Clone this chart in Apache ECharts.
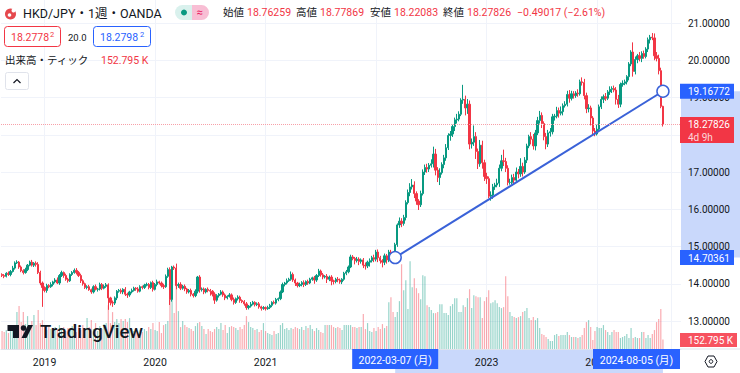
<!DOCTYPE html>
<html>
<head>
<meta charset="utf-8">
<style>
  html, body { margin: 0; padding: 0; background: #fff; }
  #chart { width: 740px; height: 373px; }
</style>
<script src="https://cdn.jsdelivr.net/npm/echarts@6/dist/echarts.min.js"></script>
</head>
<body>
<div id="chart"></div>
<script>
// HKD/JPY weekly. open of a week = close of the week before.
var firstOpen = 14.25;
var closes = [
  14.22,14.20,14.28,14.25,14.33,14.42,14.56,14.58,14.45,14.35,
  14.30,14.38,14.50,14.58,14.50,14.55,14.52,14.30,14.02,13.90,
  13.82,13.95,13.92,13.98,14.05,14.10,14.02,14.22,14.30,14.22,
  14.12,14.08,14.25,14.30,14.36,14.30,14.22,14.08,14.00,13.90,
  13.92,13.84,13.78,13.92,13.85,13.86,13.98,13.88,13.93,13.97,
  13.62,13.50,13.48,13.62,13.80,13.82,13.78,13.85,13.72,13.70,
  13.78,13.82,13.88,13.86,13.80,13.92,13.90,13.96,13.98,13.90,
  14.03,13.85,13.98,14.05,14.02,13.95,13.92,14.20,14.38,13.58,
  14.45,14.42,13.95,13.98,13.88,13.93,13.86,13.78,13.82,13.72,
  13.68,13.80,14.18,13.84,13.86,13.78,13.85,13.82,13.80,13.72,
  13.56,13.68,13.72,13.78,13.70,13.62,13.66,13.70,13.58,13.50,
  13.60,13.64,13.55,13.52,13.46,13.36,13.40,13.45,13.50,13.44,
  13.46,13.38,13.34,13.36,13.33,13.36,13.42,13.50,13.48,13.58,
  13.60,13.78,13.98,14.02,14.08,14.12,14.25,14.10,14.02,13.95,
  13.98,14.03,13.98,14.06,14.02,14.12,14.16,14.10,14.22,14.34,
  14.24,14.18,14.20,14.12,14.18,14.08,14.06,14.12,14.10,14.05,
  14.12,14.28,14.32,14.45,14.72,14.68,14.62,14.66,14.60,14.64,
  14.50,14.48,14.58,14.62,14.70,14.66,14.85,14.70,14.62,14.58,
  14.75,14.64,14.85,14.78,14.72,15.05,15.58,15.68,15.62,15.78,
  16.18,16.45,16.60,16.65,16.42,16.22,16.12,16.42,17.00,17.12,
  17.08,17.18,17.22,17.48,17.05,16.85,16.98,17.20,17.38,17.65,
  17.98,18.02,18.22,18.40,18.42,18.55,18.93,18.95,18.72,18.82,
  17.75,17.80,17.95,17.55,17.22,17.72,17.25,16.88,16.82,16.35,
  16.38,16.60,16.65,16.70,17.10,17.30,17.28,17.10,16.72,16.72,
  16.85,16.78,17.00,16.95,17.15,17.00,17.32,17.70,17.95,17.88,
  17.70,18.05,18.38,18.52,18.30,17.95,17.75,18.05,18.08,18.48,
  18.50,18.65,18.58,18.62,18.78,18.82,19.08,18.98,19.10,19.05,
  19.12,19.10,19.42,19.40,19.05,18.70,18.72,18.45,18.10,18.02,
  18.15,18.75,18.95,19.02,18.98,19.15,19.22,19.24,19.20,18.95,
  18.82,19.35,19.38,19.42,19.56,19.90,20.22,19.70,20.02,20.12,
  20.05,20.18,20.10,20.30,20.55,20.62,20.60,20.12,20.05,19.72,
  18.76259,18.27826
];
// wick lengths above and below the body
var wickUp = [
  .03,.04,.03,.05,.04,.06,.04,.05,.03,.04,
  .04,.05,.03,.04,.06,.03,.05,.06,.05,.04,
  .03,.05,.04,.06,.03,.05,.07,.04,.05,.03,
  .05,.04,.03,.04,.05,.06,.04,.05,.04,.03,
  .04,.05,.03,.04,.06,.03,.05,.04,.05,.05,
  .04,.03,.05,.04,.03,.04,.05,.03,.06,.04,
  .03,.05,.04,.03,.05,.04,.03,.04,.05,.04,
  .03,.05,.04,.06,.03,.04,.05,.05,.05,.06,
  .03,.04,.12,.05,.06,.04,.05,.03,.04,.05,
  .03,.05,.03,.05,.04,.04,.03,.05,.04,.03,
  .05,.04,.03,.05,.04,.04,.03,.05,.04,.05,
  .03,.05,.04,.03,.04,.05,.03,.06,.04,.03,
  .04,.05,.03,.04,.03,.05,.04,.03,.05,.04,
  .03,.04,.05,.03,.06,.04,.08,.05,.04,.03,
  .05,.04,.06,.03,.05,.04,.03,.05,.04,.06,
  .04,.05,.03,.06,.04,.05,.03,.04,.06,.04,
  .03,.04,.05,.04,.06,.05,.04,.06,.05,.04,
  .05,.07,.04,.06,.05,.08,.06,.07,.05,.04,
  .06,.05,.06,.06,.05,.05,.04,.10,.08,.07,
  .06,.08,.10,.16,.10,.06,.05,.08,.07,.08,
  .10,.06,.12,.20,.14,.08,.12,.06,.08,.10,
  .06,.08,.05,.06,.14,.08,.05,.39,.10,.14,
  .10,.10,.30,.12,.08,.14,.12,.08,.10,.06,
  .10,.08,.06,.12,.10,.16,.30,.10,.08,.10,
  .08,.10,.12,.08,.22,.10,.08,.06,.05,.12,
  .14,.08,.10,.12,.08,.06,.10,.08,.10,.08,
  .06,.10,.08,.14,.06,.08,.10,.12,.08,.07,
  .05,.10,.06,.12,.10,.08,.10,.06,.05,.08,
  .12,.06,.08,.06,.10,.05,.08,.06,.08,.08,
  .12,.05,.08,.06,.04,.05,.05,.26,.08,.05,
  .10,.06,.08,.05,.06,.06,.11,.12,.10,.10,
  .08,.0161
];
var wickDown = [
  .04,.05,.03,.04,.05,.03,.04,.03,.05,.04,
  .05,.03,.04,.03,.04,.05,.06,.04,.06,.52,
  .05,.06,.04,.03,.05,.04,.03,.05,.04,.06,
  .04,.05,.03,.04,.03,.05,.04,.06,.05,.04,
  .05,.03,.05,.04,.03,.06,.04,.05,.03,.04,
  .32,.08,.10,.05,.06,.04,.05,.06,.05,.08,
  .05,.04,.03,.05,.04,.03,.05,.04,.03,.05,
  .04,.06,.03,.05,.04,.05,.06,.03,.04,.15,
  .06,.05,.10,.06,.05,.04,.06,.05,.04,.06,
  .05,.04,.06,.08,.05,.06,.04,.05,.12,.06,
  .10,.04,.05,.03,.05,.06,.04,.03,.05,.06,
  .04,.05,.06,.04,.05,.06,.05,.04,.03,.05,
  .04,.05,.06,.04,.05,.03,.04,.05,.03,.04,
  .05,.04,.03,.05,.04,.03,.04,.05,.08,.05,
  .04,.05,.07,.04,.05,.03,.04,.10,.05,.04,
  .05,.06,.04,.10,.05,.12,.08,.05,.06,.05,
  .06,.04,.05,.04,.03,.05,.10,.05,.10,.06,
  .08,.10,.06,.12,.05,.08,.06,.12,.08,.14,
  .08,.10,.06,.07,.05,.04,.06,.08,.10,.06,
  .08,.05,.10,.07,.12,.10,.14,.06,.05,.08,
  .10,.08,.06,.10,.14,.12,.20,.05,.10,.08,
  .06,.14,.08,.12,.10,.06,.05,.10,.20,.16,
  .14,.12,.10,.20,.14,.08,.16,.12,.14,.05,
  .12,.10,.08,.06,.10,.08,.12,.10,.08,.06,
  .05,.10,.06,.12,.08,.12,.05,.08,.06,.14,
  .10,.12,.06,.08,.12,.10,.14,.08,.10,.07,
  .10,.06,.12,.06,.10,.05,.06,.12,.06,.08,
  .06,.08,.05,.08,.10,.12,.10,.20,.10,.06,
  .04,.08,.06,.10,.07,.05,.08,.10,.06,.14,
  .10,.08,.06,.05,.07,.10,.06,.14,.08,.10,
  .08,.10,.06,.05,.08,.10,.06,.12,.08,.10,
  .05,.05743
];
// volume in thousands of ticks
var volumes = [
  288,272,304,256,288,320,304,592,688,432,
  592,400,528,384,448,544,384,624,416,464,
  352,304,368,320,288,352,320,384,304,352,
  288,336,304,368,320,272,352,304,384,336,
  496,352,464,320,416,288,368,320,400,416,
  704,416,592,432,480,416,480,448,480,432,
  496,320,288,320,256,304,272,320,288,352,
  320,416,304,288,432,256,384,400,448,1216,
  1248,576,1296,608,352,448,384,352,336,320,
  288,368,416,432,368,320,240,320,288,272,
  320,352,320,416,304,384,256,352,368,352,
  336,304,352,320,384,528,432,352,336,304,
  320,272,304,416,288,256,240,224,288,240,
  256,384,416,320,336,304,336,320,352,336,
  320,352,304,368,336,384,320,288,336,304,
  272,256,384,384,384,384,352,336,352,336,
  304,384,384,384,384,352,352,336,352,352,
  560,320,416,288,272,336,288,352,320,400,
  336,368,752,832,592,512,592,768,1360,944,
  1104,640,1408,992,1136,976,896,800,1184,1168,
  704,672,624,576,576,592,720,720,576,576,
  544,688,720,816,816,592,592,704,672,816,
  960,656,864,848,832,832,496,768,832,944,
  736,752,784,736,672,656,672,1168,848,592,
  528,512,496,512,528,592,608,656,496,464,
  512,464,496,336,240,224,192,160,128,128,
  224,240,208,224,224,224,272,224,192,192,
  192,176,192,224,336,432,464,352,144,288,
  352,336,336,384,304,272,224,272,304,272,
  272,176,192,208,240,176,336,176,192,176,
  176,272,272,176,224,176,240,304,432,480,
  640,152.795
];
var firstWeek = '2018-08-20';
var futureWeeks = 8;
// grid lines fall on these weeks; 2022 sits under the date pill so it has no text
var timeLabels = {
  '2019-01-07': '2019', '2020-01-06': '2020', '2021-01-04': '2021', '2022-01-03': '',
  '2023-01-02': '2023', '2024-01-01': '2024', '2024-09-02': ''
};
var priceTicks = [13, 14, 15, 16, 17, 19, 20, 21];
// trend line drawn by hand on the chart
var lineStart = { date: '2022-03-07', price: 14.70361, label: '2022-03-07 (月)' };
var lineEnd = { date: '2024-08-05', price: 19.16772, label: '2024-08-05 (月)' };
var lastPrice = 18.27826;

var up = '#089981', down = '#f23645', blue = '#2962ff', shade = '#c9d8fb', ink = '#131722', gridCol = '#f0f3fa';
var font = 'Roboto, "Noto Sans CJK JP", sans-serif';

var dates = [];
for (var w = 0; w < closes.length + futureWeeks; w++) {
  dates.push(new Date(Date.parse(firstWeek + 'T00:00:00Z') + w * 7 * 86400000).toISOString().slice(0, 10));
}
var candles = [], volBars = [], trend = [];
closes.forEach(function(c, i) {
  var o = i === 0 ? firstOpen : closes[i - 1];
  candles.push([o, c, Math.min(o, c) - wickDown[i], Math.max(o, c) + wickUp[i]]);
  volBars.push({ value: volumes[i], itemStyle: { color: c >= o ? up : down, opacity: 0.42 } });
  trend.push(dates[i] === lineStart.date ? lineStart.price : dates[i] === lineEnd.date ? lineEnd.price : null);
});

var chart = echarts.init(document.getElementById('chart'), null, { renderer: 'svg' });
chart.setOption({
  animation: false,
  grid: [
    { left: 1, width: 680, top: 4.375, height: 353.875 },
    { left: 1, width: 680, top: 0, height: 349 }
  ],
  xAxis: [
    { type: 'category', gridIndex: 0, data: dates, show: false },
    {
      type: 'category', gridIndex: 1, data: dates,
      axisLine: { lineStyle: { color: '#e0e3eb' } },
      axisTick: { show: false },
      splitLine: {
        show: true, alignWithLabel: true,
        interval: function(i, v) { return timeLabels[v] !== undefined; },
        lineStyle: { color: gridCol, width: 1 }
      },
      axisLabel: {
        color: ink, fontFamily: font, fontSize: 10.5, margin: 8, hideOverlap: false,
        interval: function(i, v) { return timeLabels[v] !== undefined; },
        formatter: function(v) { return timeLabels[v]; }
      }
    }
  ],
  yAxis: [
    {
      type: 'value', gridIndex: 0, position: 'right', min: 12, max: 21.5, interval: 1,
      axisLine: { show: false }, axisTick: { show: false },
      splitLine: { lineStyle: { color: gridCol, width: 1 }, showMinLine: false, showMaxLine: false },
      axisLabel: {
        color: ink, fontFamily: font, fontSize: 10, margin: 7, showMinLabel: false, showMaxLabel: false,
        formatter: function(v) { return priceTicks.indexOf(v) >= 0 ? v.toFixed(5) : ''; }
      }
    },
    { type: 'value', gridIndex: 1, min: 0, max: 5600, show: false, splitLine: { show: false } }
  ],
  series: [
    {
      name: '出来高', type: 'bar', xAxisIndex: 1, yAxisIndex: 1, barWidth: 1.2, z: 1,
      data: volBars
    },
    {
      name: 'HKD/JPY', type: 'candlestick', xAxisIndex: 0, yAxisIndex: 0, barWidth: 1.8, z: 2,
      itemStyle: { color: up, color0: down, borderColor: up, borderColor0: down, borderWidth: 1 },
      data: candles,
      markLine: {
        silent: true, symbol: 'none', label: { show: false },
        data: [{ yAxis: lastPrice, lineStyle: { color: '#f7a0a8', type: 'dotted', width: 1 } }]
      }
    },
    {
      name: 'trend', type: 'line', xAxisIndex: 0, yAxisIndex: 0, connectNulls: true, z: 3,
      symbol: 'circle', symbolSize: 12, showSymbol: true, showAllSymbol: true,
      lineStyle: { color: '#3a62d8', width: 2 },
      itemStyle: { color: '#fff', borderColor: '#3a62d8', borderWidth: 1.5 },
      data: trend
    }
  ]
});

function px(date) { return chart.convertToPixel({ xAxisIndex: 0 }, date); }
function py(price) { return chart.convertToPixel({ yAxisIndex: 0 }, price); }

function txt(x, y, s, size, color, align, weight) {
  return {
    type: 'text', z: 100,
    style: {
      x: x, y: y, text: s, fill: color,
      font: (weight || 'normal') + ' ' + size + 'px ' + font,
      textAlign: align || 'left', textVerticalAlign: 'middle'
    }
  };
}
function box(x, y, w, h, fill, stroke, r, z) {
  return {
    type: 'rect', z: z === undefined ? 90 : z,
    shape: { x: x, y: y, width: w, height: h, r: r || 0 },
    style: { fill: fill, stroke: stroke || null, lineWidth: stroke ? 1 : 0 }
  };
}

var xa = px(lineStart.date), xb = px(lineEnd.date), ya = py(lineStart.price), yb = py(lineEnd.price), yl = py(lastPrice);
var g = [
  // selected range on both axes
  box(xa, 349, xb - xa, 24, shade, null, 0, -1),
  box(681, yb, 59, ya - yb, shade, null, 0, -1),
  { type: 'line', z: 5, shape: { x1: 680, y1: 349, x2: 740, y2: 349 }, style: { stroke: '#e0e3eb', lineWidth: 1 } },

  // date pills
  box(xa - 43, 349, 86, 20, blue),
  txt(xa, 360, lineStart.label, 10.5, '#fff', 'center'),
  box(593, 349, 87, 20, blue),
  txt(636.5, 360, lineEnd.label, 10.5, '#fff', 'center'),

  // price pills
  box(680, yb - 7.5, 54, 15, blue),
  txt(688, yb + 0.5, lineEnd.price.toFixed(5), 10, '#fff'),
  box(680, ya - 7.5, 54, 15, blue),
  txt(688, ya + 0.5, lineStart.price.toFixed(5), 10, '#fff'),
  box(680, yl - 7.5, 54, 26, down),
  txt(688, yl + 0.5, lastPrice.toFixed(5), 10, '#fff'),
  txt(688, yl + 13, '4d 9h', 10, 'rgba(255,255,255,0.8)'),
  box(680, 333, 57, 14, '#f7525f'),
  txt(688, 340.5, '152.795 K', 10, '#fff'),

  // settings icon
  { type: 'polygon', z: 100, shape: { points: [[705, 361.5], [708, 356], [714, 356], [717, 361.5], [714, 367], [708, 367]] }, style: { fill: 'none', stroke: ink, lineWidth: 1 } },
  { type: 'circle', z: 100, shape: { cx: 711, cy: 361.5, r: 1.8 }, style: { fill: 'none', stroke: ink, lineWidth: 1 } },

  // symbol row
  { type: 'circle', z: 100, shape: { cx: 10.5, cy: 14, r: 5.5 }, style: { fill: '#e5484d' } },
  { type: 'circle', z: 100, shape: { cx: 13.5, cy: 10.5, r: 2 }, style: { fill: '#fff' } },
  { type: 'circle', z: 100, shape: { cx: 9.5, cy: 15, r: 1.8 }, style: { fill: '#fff' } },
  txt(23, 13, 'HKD/JPY・1週・OANDA', 12.5, ink),
  box(175, 5, 22, 15, '#d9f1ed', null, [7.5, 0, 0, 7.5]),
  box(192, 5, 17, 15, '#f8bed4', null, [0, 7.5, 7.5, 0]),
  { type: 'circle', z: 100, shape: { cx: 184, cy: 12.5, r: 3 }, style: { fill: up } },
  txt(199.5, 12.5, '≈', 11, '#e91e63', 'center'),

  // OHLC values
  txt(223, 12, '始値', 10.5, ink),
  txt(247, 12, '18.76259', 10.5, down),
  txt(296, 12, '高値', 10.5, ink),
  txt(320, 12, '18.77869', 10.5, down),
  txt(370, 12, '安値', 10.5, ink),
  txt(394, 12, '18.22083', 10.5, down),
  txt(443, 12, '終値', 10.5, ink),
  txt(467, 12, '18.27826', 10.5, down),
  txt(517, 12, '−0.49017 (−2.61%)', 10.5, down),

  // bid / ask
  box(4.5, 26.5, 56, 20, '#fff', down, 3),
  txt(11, 37, '18.2778', 10.5, down),
  txt(50, 34.5, '2', 7.5, down),
  txt(68, 37, '20.0', 9.5, ink),
  box(93.5, 26.5, 57, 20, '#fff', blue, 3),
  txt(100, 37, '18.2798', 10.5, blue),
  txt(140, 34.5, '2', 7.5, blue),

  // volume legend
  txt(5, 60, '出来高・ティック', 10.5, ink),
  txt(101, 60, '152.795 K', 10.5, down),
  box(5.5, 72.5, 23, 17, '#fff', '#e0e3eb', 2),
  { type: 'polyline', z: 100, shape: { points: [[13.5, 83], [17, 79.5], [20.5, 83]] }, style: { fill: 'none', stroke: ink, lineWidth: 1.2 } },

  // logo
  { type: 'polygon', z: 100, shape: { points: [[7.5, 325], [19, 325], [19, 338], [13, 338], [13, 331], [7.5, 331]] }, style: { fill: ink } },
  { type: 'circle', z: 100, shape: { cx: 23.5, cy: 328, r: 2.8 }, style: { fill: ink } },
  { type: 'polygon', z: 100, shape: { points: [[21.5, 338], [26.5, 338], [33, 325], [28, 325]] }, style: { fill: ink } },
  txt(40, 331.5, 'TradingView', 18.5, ink, 'left', '500')
];
chart.setOption({ graphic: g });
</script>
</body>
</html>
